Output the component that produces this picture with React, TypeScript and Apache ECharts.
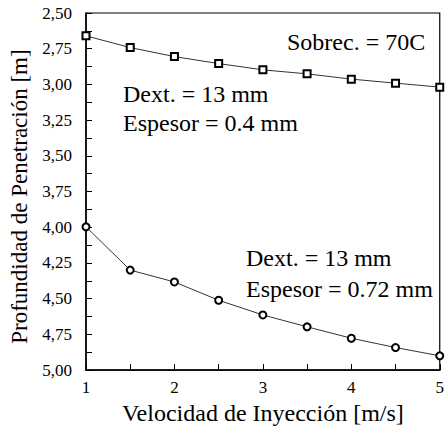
import React, { useEffect, useRef } from "react";
import * as echarts from "echarts";

const velocities = [1, 1.5, 2, 2.5, 3, 3.5, 4, 4.5, 5];
const depthThin = [2.66, 2.742, 2.805, 2.854, 2.898, 2.926, 2.963, 2.991, 3.019];
const depthThick = [3.997, 4.3, 4.383, 4.511, 4.614, 4.697, 4.777, 4.842, 4.9];

const FONT = "Liberation Serif";

export default function App() {
  const ref = useRef<HTMLDivElement>(null);
  useEffect(() => {
    if (!ref.current) return;
    document.body.style.margin = "0";
    const chart = echarts.init(ref.current, null, { renderer: "svg" });
    const mk = (ys: number[]) => velocities.map((x, i) => [x, ys[i]]);
    const txt = (text: string, x: number, y: number) => ({
      type: "text",
      x,
      y,
      style: {
        text,
        fontFamily: FONT,
        fontSize: 24,
        fill: "#000",
        align: "left",
        verticalAlign: "middle",
      },
    });
    chart.setOption({
      animation: false,
      backgroundColor: "#fff",
      textStyle: { fontFamily: FONT, color: "#000" },
      grid: {
        left: 86,
        top: 13,
        width: 357,
        height: 358,
        show: true,
        borderColor: "#000",
        borderWidth: 1.2,
      },
      xAxis: {
        type: "value",
        min: 1,
        max: 5,
        interval: 1,
        name: "Velocidad de Inyección [m/s]",
        nameLocation: "middle",
        nameGap: 27,
        nameTextStyle: { fontFamily: FONT, fontSize: 24, color: "#000" },
        axisLine: { onZero: false, lineStyle: { color: "#000", width: 1.5 } },
        axisTick: { inside: true, length: 6, lineStyle: { color: "#000" } },
        minorTick: { show: true, splitNumber: 2, length: 6, lineStyle: { color: "#000" } },
        axisLabel: { fontFamily: FONT, fontSize: 17, color: "#000", margin: 9 },
        splitLine: { show: false },
      },
      yAxis: {
        type: "value",
        inverse: true,
        min: 2.5,
        max: 5,
        interval: 0.25,
        name: "Profundidad de Penetración [m]",
        nameLocation: "middle",
        nameRotate: 90,
        nameGap: 50,
        nameTextStyle: {
          fontFamily: FONT,
          fontSize: 23,
          color: "#000",
          padding: [0, 10, 0, 0],
        },
        axisLine: { lineStyle: { color: "#000", width: 1.5 } },
        axisTick: { inside: true, length: 6, lineStyle: { color: "#000" } },
        minorTick: { show: true, splitNumber: 2, length: 6, lineStyle: { color: "#000" } },
        axisLabel: {
          fontFamily: FONT,
          fontSize: 17,
          color: "#000",
          margin: 14,
          formatter: (v: number) => v.toFixed(2).replace(".", ","),
        },
        splitLine: { show: false },
      },
      series: [
        {
          type: "line",
          data: mk(depthThin),
          symbol: "emptyRect",
          symbolSize: 7,
          lineStyle: { color: "#000", width: 0.8 },
          itemStyle: { color: "#000", borderColor: "#000", borderWidth: 0.8 },
        },
        {
          type: "line",
          data: mk(depthThick),
          symbol: "emptyCircle",
          symbolSize: 7,
          lineStyle: { color: "#000", width: 0.8 },
          itemStyle: { color: "#000", borderColor: "#000", borderWidth: 0.8 },
        },
      ],
      graphic: [
        txt("Sobrec. = 70C", 287, 42),
        txt("Dext. = 13 mm", 123, 94),
        txt("Espesor = 0.4 mm", 123, 122.5),
        txt("Dext. = 13 mm", 246, 257.5),
        txt("Espesor = 0.72 mm", 246, 288.5),
      ],
    });
    return () => chart.dispose();
  }, []);
  return <div ref={ref} style={{ width: 447, height: 430 }} />;
}
